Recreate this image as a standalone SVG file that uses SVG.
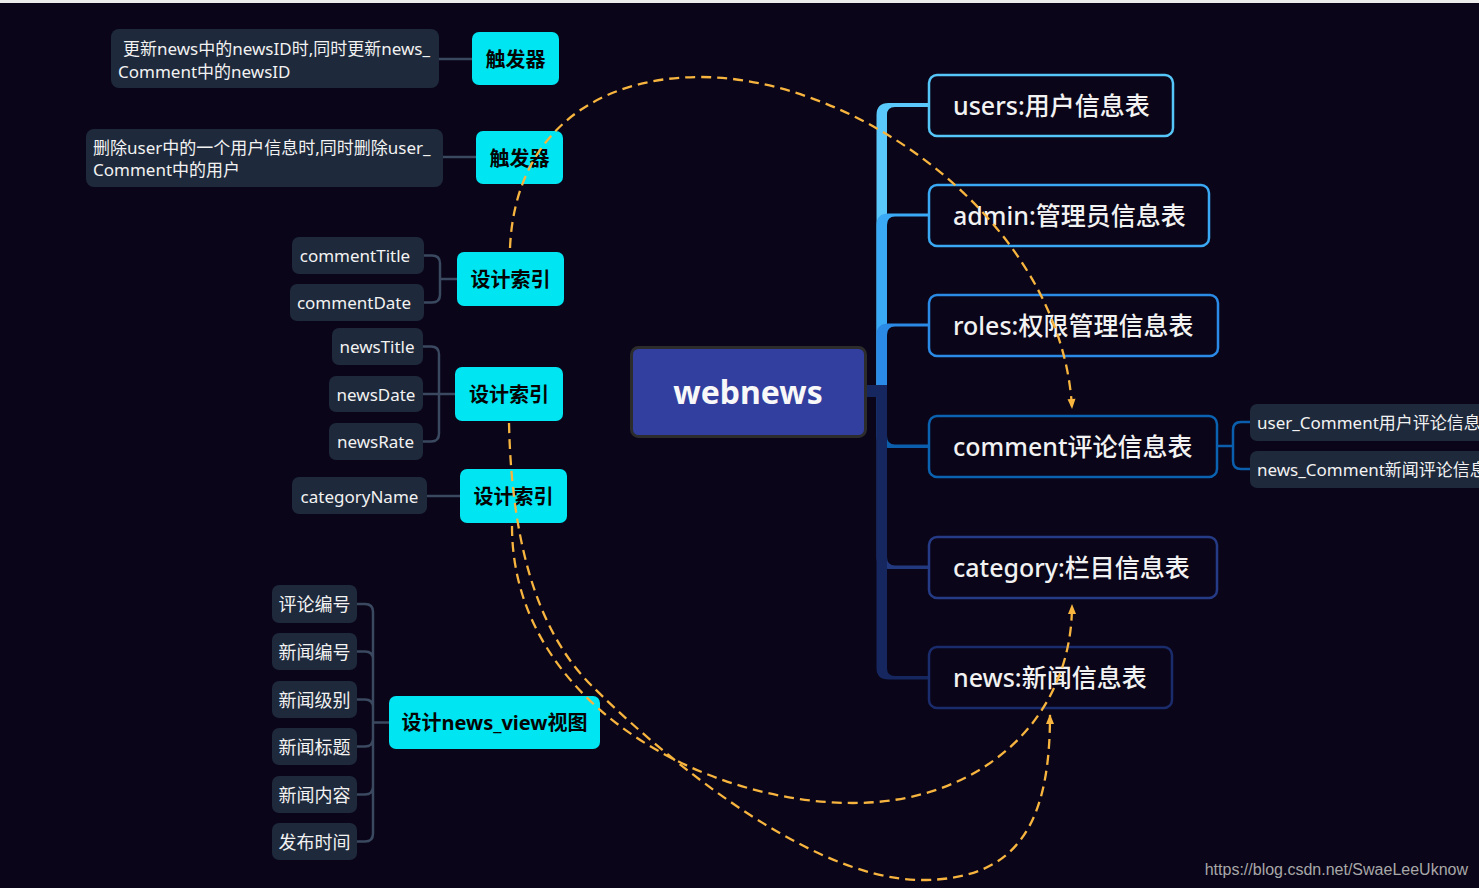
<svg xmlns="http://www.w3.org/2000/svg" width="1479" height="888" viewBox="0 0 1479 888">
<style>
.t{font-family:"Noto Sans","Noto Sans CJK SC",sans-serif;fill:#f2f2f2;}
.gray{fill:#1e293b;}
.cy{fill:#00e5f2;}
.ct{font-family:"Noto Sans","Noto Sans CJK SC",sans-serif;font-weight:bold;font-size:20px;fill:#050505;text-anchor:middle;dominant-baseline:central;}
.st{font-size:17px;text-anchor:middle;dominant-baseline:central;}
.vt{font-size:18px;text-anchor:middle;dominant-baseline:central;}
.rt{font-size:25px;dominant-baseline:central;font-weight:500;}
.gl{fill:none;stroke:#3a4960;stroke-width:2.5;}
.rn{fill:#0a0518;stroke-width:2.5;}
.dash{fill:none;stroke:#f7b53f;stroke-width:2.3;stroke-dasharray:10 6;marker-end:url(#arr);}
</style>
<defs>
<marker id="arr" viewBox="0 0 10 10" refX="9" refY="5" markerWidth="11" markerHeight="10" markerUnits="userSpaceOnUse" orient="auto">
<path d="M0,1 L10,5 L0,9 Z" fill="#f7b53f"/>
</marker>
</defs>
<rect width="1479" height="888" fill="#0a0518"/>
<rect width="1479" height="3" fill="#ececec"/>

<g id="connectors">
<path class="gl" d="M439,59 L472,59"/>
<path class="gl" d="M443,157 L476,157"/>
<path class="gl" d="M424,255.5 L432,255.5 Q440,255.5 440,263.5 L440,294.5 Q440,302.5 432,302.5 L424,302.5 M440,279 L457,279"/>
<path class="gl" d="M423,346.5 L431,346.5 Q439,346.5 439,354.5 L439,433.5 Q439,441.5 431,441.5 L423,441.5 M423,394 L455,394"/>
<path class="gl" d="M427,496 L460,496"/>
<path class="gl" d="M357,604 L365,604 Q373,604 373,612 L373,833.5 Q373,841.5 365,841.5 L357,841.5 M357,651.5 L365,651.5 Q373,651.5 373,659.5 M357,699.5 L365,699.5 Q373,699.5 373,707.5 M357,746.5 L365,746.5 Q373,746.5 373,738.5 M357,794.5 L365,794.5 Q373,794.5 373,786.5 M373,722.5 L389,722.5"/>
<path fill="#5ac8fa" d="M876.5,392 L876.5,115 Q876.5,103 888.5,103 L929,103 L929,107 L895,107 Q887,107 887,115 L887,392 Z"/>
<path fill="#3aaaf6" d="M876.5,392 L876.5,225 Q876.5,213.5 888.5,213.5 L929,213.5 L929,216.5 L895,216.5 Q887,216.5 887,225 L887,392 Z"/>
<path fill="#2a8ae6" d="M876.5,392 L876.5,335 Q876.5,323.5 888.5,323.5 L929,323.5 L929,326.5 L895,326.5 Q887,326.5 887,335 L887,392 Z"/>
<path fill="#0b5eac" d="M876.5,386 L876.5,436 Q876.5,448 888.5,448 L929,448 L929,444.5 L895,444.5 Q887,444.5 887,436 L887,386 Z"/>
<path fill="#22397f" d="M876.5,386 L876.5,557 Q876.5,569 888.5,569 L929,569 L929,565.5 L895,565.5 Q887,565.5 887,557 L887,386 Z"/>
<path fill="#16265f" d="M876.5,386 L876.5,668 Q876.5,679.5 888.5,679.5 L929,679.5 L929,676 L895,676 Q887,676 887,668 L887,386 Z"/>
<rect x="866" y="385" width="21" height="12" fill="#16265f"/>
<path fill="none" stroke="#0b5eac" stroke-width="2.5" d="M1217,446 L1233,446 M1250,422 L1241,422 Q1233,422 1233,430 L1233,461 Q1233,469 1241,469 L1250,469"/>
</g>

<g id="trigger1-text"><rect class="gray" x="111" y="29" width="328" height="59" rx="8"/>
<text class="t" font-size="17" x="123" y="48" dominant-baseline="central">更新news中的newsID时,同时更新news_</text>
<text class="t" font-size="17" x="118" y="71" dominant-baseline="central">Comment中的newsID</text></g>
<g id="trigger1"><rect class="cy" x="472" y="32" width="87" height="53" rx="7"/><text class="ct" x="515.5" y="59">触发器</text></g>

<g id="trigger2-text"><rect class="gray" x="86" y="129" width="357" height="58" rx="8"/>
<text class="t" font-size="17" x="93" y="147" dominant-baseline="central">删除user中的一个用户信息时,同时删除user_</text>
<text class="t" font-size="17" x="93" y="169" dominant-baseline="central">Comment中的用户</text></g>
<g id="trigger2"><rect class="cy" x="476" y="131" width="87" height="53" rx="7"/><text class="ct" x="519.5" y="158">触发器</text></g>

<g id="commentTitle"><rect class="gray" x="292" y="237" width="132" height="37" rx="7"/><text class="t st" x="355" y="255.5">commentTitle</text></g>
<g id="commentDate"><rect class="gray" x="290" y="284" width="134" height="37" rx="7"/><text class="t st" x="354" y="302.5">commentDate</text></g>
<g id="index1"><rect class="cy" x="457" y="252" width="107" height="54" rx="7"/><text class="ct" x="510.5" y="279">设计索引</text></g>

<g id="newsTitle"><rect class="gray" x="332" y="328" width="91" height="37" rx="7"/><text class="t st" x="377" y="346.5">newsTitle</text></g>
<g id="newsDate"><rect class="gray" x="329" y="376" width="94" height="36" rx="7"/><text class="t st" x="376" y="394">newsDate</text></g>
<g id="newsRate"><rect class="gray" x="329" y="423" width="94" height="37" rx="7"/><text class="t st" x="375.5" y="441.5">newsRate</text></g>
<g id="index2"><rect class="cy" x="455" y="367" width="108" height="54" rx="7"/><text class="ct" x="509" y="394">设计索引</text></g>

<g id="categoryName"><rect class="gray" x="292" y="477" width="135" height="37" rx="7"/><text class="t st" x="359.5" y="496">categoryName</text></g>
<g id="index3"><rect class="cy" x="460" y="469" width="107" height="54" rx="7"/><text class="ct" x="513.5" y="496">设计索引</text></g>

<g id="v1"><rect class="gray" x="272" y="585" width="85" height="38" rx="7"/><text class="t vt" x="314.5" y="604">评论编号</text></g>
<g id="v2"><rect class="gray" x="272" y="633" width="85" height="37" rx="7"/><text class="t vt" x="314.5" y="651.5">新闻编号</text></g>
<g id="v3"><rect class="gray" x="272" y="681" width="85" height="37" rx="7"/><text class="t vt" x="314.5" y="699.5">新闻级别</text></g>
<g id="v4"><rect class="gray" x="272" y="728" width="85" height="37" rx="7"/><text class="t vt" x="314.5" y="746.5">新闻标题</text></g>
<g id="v5"><rect class="gray" x="272" y="776" width="85" height="37" rx="7"/><text class="t vt" x="314.5" y="794.5">新闻内容</text></g>
<g id="v6"><rect class="gray" x="272" y="823" width="85" height="37" rx="7"/><text class="t vt" x="314.5" y="841.5">发布时间</text></g>
<g id="view"><rect class="cy" x="389" y="696" width="211" height="53" rx="7"/><text class="ct" x="494.5" y="722.5">设计news_view视图</text></g>

<g id="root"><rect x="631.5" y="347.5" width="234" height="89" rx="7" fill="#323f9e" stroke="#2c2c2c" stroke-width="3"/>
<text x="748" y="391" font-family="'Noto Sans',sans-serif" font-weight="bold" font-size="32" fill="#f8f8f8" text-anchor="middle" dominant-baseline="central">webnews</text></g>

<g id="users"><rect class="rn" x="929" y="75" width="244" height="61" rx="8" stroke="#55c6f7"/><text class="t rt" x="953" y="105">users:用户信息表</text></g>
<g id="admin"><rect class="rn" x="929" y="185" width="280" height="61" rx="8" stroke="#3aa8f3"/><text class="t rt" x="953" y="215">admin:管理员信息表</text></g>
<g id="roles"><rect class="rn" x="929" y="295" width="289" height="61" rx="8" stroke="#2a8ae6"/><text class="t rt" x="953" y="325">roles:权限管理信息表</text></g>
<g id="comment"><rect class="rn" x="929" y="416" width="288" height="61" rx="8" stroke="#0b62b0"/><text class="t rt" x="953" y="446">comment评论信息表</text></g>
<g id="category"><rect class="rn" x="929" y="537" width="288" height="61" rx="8" stroke="#253b86"/><text class="t rt" x="953" y="567">category:栏目信息表</text></g>
<g id="news"><rect class="rn" x="929" y="647" width="243" height="61" rx="8" stroke="#1b2c6c"/><text class="t rt" x="953" y="677">news:新闻信息表</text></g>

<g id="userComment"><rect class="gray" x="1250" y="404" width="260" height="37" rx="7"/><text class="t" font-size="17" x="1257" y="422.5" dominant-baseline="central">user_Comment用户评论信息</text></g>
<g id="newsComment"><rect class="gray" x="1250" y="451" width="260" height="37" rx="7"/><text class="t" font-size="17" x="1257" y="469.5" dominant-baseline="central">news_Comment新闻评论信息</text></g>

<g id="dashed-links">
<path class="dash" d="M510,248 C515,130 600,77 700,77 C860,77 1062,225 1072,408"/>
<path class="dash" d="M512,526 C512,700 700,803 853,803 C980,803 1072,720 1072,605"/>
<path class="dash" d="M509,423 C512,560 545,640 593,687 C640,734 800,880 922,880 C1020,880 1050,820 1050,715"/>
</g>

<text x="1468" y="869" font-family="'Liberation Sans',Arial,sans-serif" font-size="16" fill="#a8a8a8" text-anchor="end" dominant-baseline="central">https://blog.csdn.net/SwaeLeeUknow</text>
</svg>
